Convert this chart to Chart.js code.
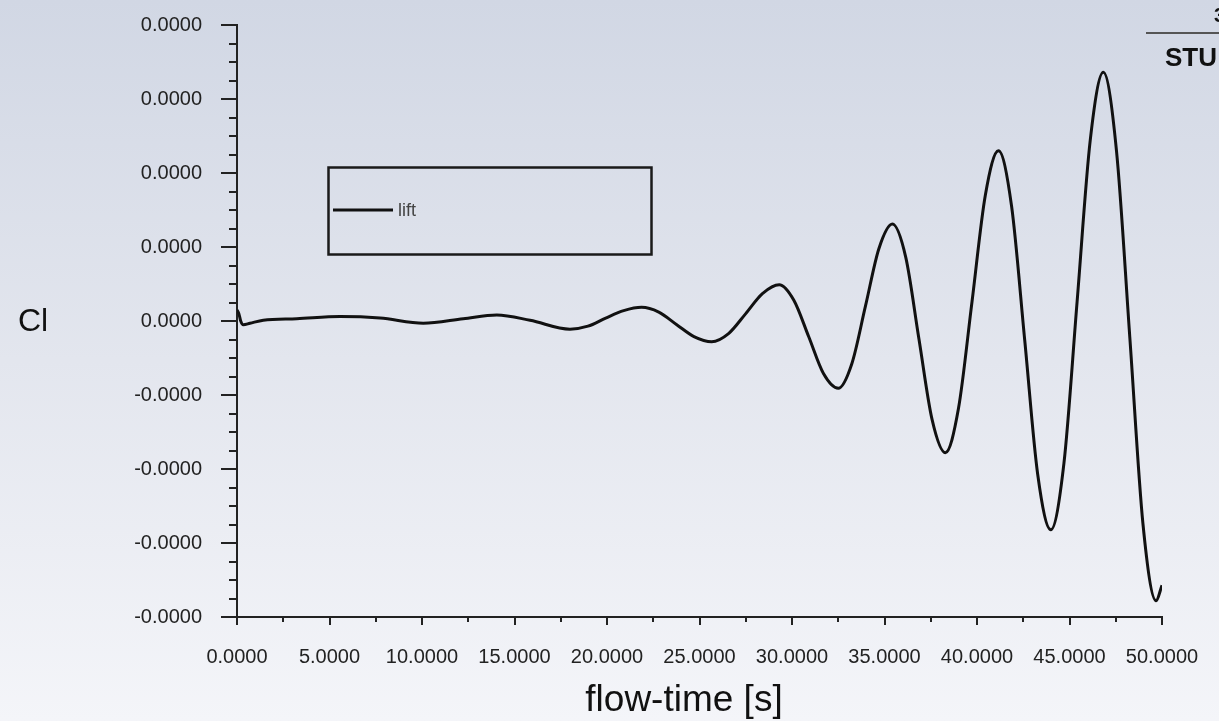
<!DOCTYPE html>
<html>
<head>
<meta charset="utf-8">
<script src="https://cdn.jsdelivr.net/npm/chart.js@4/dist/chart.umd.min.js"></script>
<style>
  body { margin: 0; background: #f3f4f8; }
  #chart { display: block; }
</style>
</head>
<body>
<canvas id="chart" width="1219" height="721"></canvas>
<script>
// flow time (s) and lift coefficient (in 1e-5 units)
const flowTime = [0.00, 0.10, 0.20, 0.34, 0.70, 1.42, 3.23, 5.57, 7.73, 10.07, 12.23, 14.04, 15.84,
  18.00, 18.97, 19.93, 20.90, 21.87, 22.80, 23.77, 24.70, 25.66, 26.57, 27.50, 28.40, 29.31,
  30.10, 30.90, 31.70, 32.50, 33.23, 33.97, 34.70, 35.43, 36.15, 36.86, 37.57, 38.29,
  39.00, 39.73, 40.45, 41.16, 41.87, 42.58, 43.28, 43.99, 44.70, 45.41, 46.12, 46.83,
  47.54, 48.26, 48.97, 49.68, 50.00];
const liftE5 = [0.15, 0.10, 0.00, -0.05, -0.03, 0.01, 0.03, 0.06, 0.04, -0.03, 0.03, 0.08, 0.01,
  -0.11, -0.07, 0.04, 0.14, 0.185, 0.12, -0.05, -0.21, -0.28, -0.17, 0.10, 0.37, 0.49,
  0.28, -0.21, -0.71, -0.91, -0.58, 0.20, 0.98, 1.31, 0.86, -0.24, -1.33, -1.78,
  -1.18, 0.26, 1.70, 2.30, 1.55, -0.26, -2.07, -2.82, -1.92, 0.26, 2.44, 3.36,
  2.30, -0.22, -2.74, -3.78, -3.57];
const seriesName = 'lift';
const xTitle = 'flow-time [s]';
const yTitle = 'Cl';

const points = flowTime.map((t, i) => ({ x: t, y: liftE5[i] }));

const decor = {
  id: 'decor',
  beforeDraw(chart) {
    const c = chart.ctx;
    const g = c.createLinearGradient(0, 0, 0, chart.height);
    g.addColorStop(0, '#d1d7e4');
    g.addColorStop(0.5, '#e3e6ee');
    g.addColorStop(1, '#f4f5f9');
    c.save();
    c.fillStyle = g;
    c.fillRect(0, 0, chart.width, chart.height);
    c.restore();
  },
  afterDraw(chart) {
    const c = chart.ctx;
    const xs = chart.scales.x, ys = chart.scales.y;
    c.save();
    c.strokeStyle = '#222';
    c.lineWidth = 2;
    // minor ticks
    for (let v = -4; v < 4; v += 0.25) {
      if (Math.abs(v - Math.round(v)) < 1e-6) continue;
      const py = Math.round(ys.getPixelForValue(v));
      c.beginPath(); c.moveTo(xs.left - 8, py); c.lineTo(xs.left, py); c.stroke();
    }
    for (let t = 2.5; t < 50; t += 5) {
      const px = Math.round(xs.getPixelForValue(t));
      c.beginPath(); c.moveTo(px, ys.bottom); c.lineTo(px, ys.bottom + 5); c.stroke();
    }
    // axis titles
    c.fillStyle = '#111';
    c.textBaseline = 'middle';
    c.font = '32px "Liberation Sans", Arial, sans-serif';
    c.textAlign = 'left';
    c.fillText(yTitle, 18, 322);
    c.font = '37px "Liberation Sans", Arial, sans-serif';
    c.textAlign = 'center';
    c.fillText(xTitle, 684, 701);
    // legend box
    c.lineWidth = 2.5;
    c.strokeStyle = '#1a1a1a';
    c.strokeRect(328.5, 167.5, 323, 87);
    c.lineWidth = 3;
    c.strokeStyle = '#111';
    c.beginPath(); c.moveTo(333, 210); c.lineTo(393, 210); c.stroke();
    c.fillStyle = '#444';
    c.textAlign = 'left';
    c.font = '18px "Liberation Sans", Arial, sans-serif';
    c.fillText(seriesName, 398, 211);
    // clipped corner marks
    c.strokeStyle = '#555';
    c.lineWidth = 2;
    c.beginPath(); c.moveTo(1146, 33); c.lineTo(1219, 33); c.stroke();
    c.fillStyle = '#111';
    c.font = 'bold 26px "Liberation Sans", Arial, sans-serif';
    c.textBaseline = 'alphabetic';
    c.fillText('STU', 1165, 66);
    c.font = 'bold 20px "Liberation Sans", Arial, sans-serif';
    c.fillText('3', 1214, 22);
    c.restore();
  }
};

new Chart(document.getElementById('chart').getContext('2d'), {
  type: 'line',
  data: {
    datasets: [{
      label: seriesName,
      data: points,
      borderColor: '#111',
      borderWidth: 3,
      pointRadius: 0,
      fill: false,
      cubicInterpolationMode: 'monotone'
    }]
  },
  options: {
    responsive: false,
    animation: false,
    layout: { padding: { top: 25, right: 57, left: 0, bottom: 0 } },
    plugins: { legend: { display: false }, tooltip: { enabled: false } },
    scales: {
      x: {
        type: 'linear',
        min: 0, max: 50,
        afterFit: (s) => { s.height = 104; s.paddingLeft = 0; s.paddingRight = 0; },
        grid: { drawOnChartArea: false, tickLength: 8, color: '#222', lineWidth: 2 },
        border: { color: '#222', width: 2 },
        ticks: {
          stepSize: 5,
          maxRotation: 0,
          padding: 20,
          color: '#222',
          font: { family: '"Liberation Sans", Arial, sans-serif', size: 20 },
          callback: (v) => v.toFixed(4)
        }
      },
      y: {
        min: -4, max: 4,
        afterFit: (s) => { s.width = 237; s.paddingTop = 0; s.paddingBottom = 0; },
        grid: { drawOnChartArea: false, tickLength: 16, color: '#222', lineWidth: 2 },
        border: { color: '#222', width: 2 },
        ticks: {
          stepSize: 1,
          padding: 19,
          color: '#222',
          font: { family: '"Liberation Sans", Arial, sans-serif', size: 20 },
          callback: (v) => (v * 1e-5).toFixed(4)
        }
      }
    }
  },
  plugins: [decor]
});
</script>
</body>
</html>
